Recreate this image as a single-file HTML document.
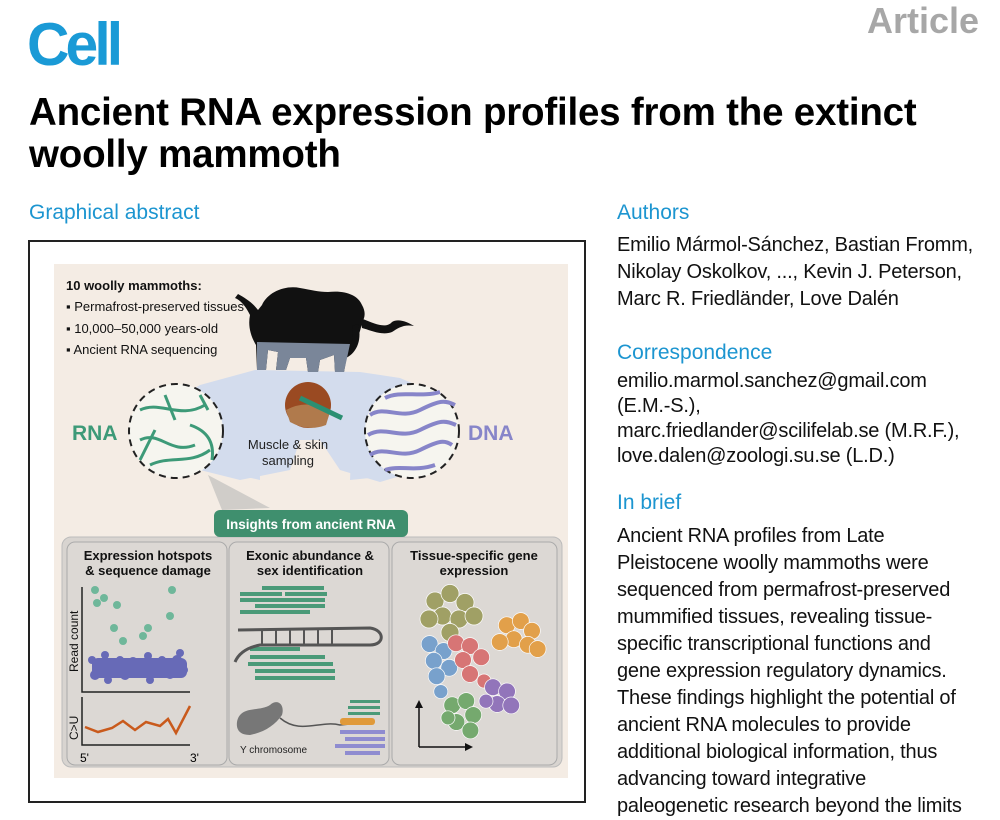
<!DOCTYPE html>
<html><head><meta charset="utf-8"><style>
body{margin:0;width:1000px;height:818px;overflow:hidden;background:#fff;font-family:"Liberation Sans",sans-serif;position:relative}
.a{position:absolute;white-space:nowrap}
.h{color:#1c95d0;font-size:21px}
.t{font-size:20px;color:#111;line-height:27px;letter-spacing:-0.2px}
</style></head><body>
<div class="a" style="left:27px;top:10px;font-size:60px;font-weight:bold;color:#1a9ad6;letter-spacing:-4px;transform:scaleX(0.98);transform-origin:left">Cell</div>
<div class="a" style="left:867px;top:0px;font-size:36px;font-weight:bold;color:#a7a7a7">Article</div>
<div class="a" style="left:29px;top:92px;font-size:38.5px;font-weight:bold;line-height:42px;color:#000;letter-spacing:-0.2px">Ancient RNA expression profiles from the extinct<br>woolly mammoth</div>
<div class="a h" style="left:29px;top:201px">Graphical abstract</div>
<div class="a h" style="left:617px;top:201px">Authors</div>
<div class="a t" style="left:617px;top:232px">Emilio Mármol-Sánchez, Bastian Fromm,<br>Nikolay Oskolkov, ..., Kevin J. Peterson,<br>Marc R. Friedländer, Love Dalén</div>
<div class="a h" style="left:617px;top:341px">Correspondence</div>
<div class="a t" style="left:617px;top:369px;line-height:25px">emilio.marmol.sanchez@gmail.com<br>(E.M.-S.),<br>marc.friedlander@scilifelab.se (M.R.F.),<br>love.dalen@zoologi.su.se (L.D.)</div>
<div class="a h" style="left:617px;top:491px">In brief</div>
<div class="a t" style="left:617px;top:523px">Ancient RNA profiles from Late<br>Pleistocene woolly mammoths were<br>sequenced from permafrost-preserved<br>mummified tissues, revealing tissue-<br>specific transcriptional functions and<br>gene expression regulatory dynamics.<br>These findings highlight the potential of<br>ancient RNA molecules to provide<br>additional biological information, thus<br>advancing toward integrative<br>paleogenetic research beyond the limits</div>
<svg class="a" style="left:0;top:0" width="600" height="818" font-family="Liberation Sans, sans-serif">
<rect x="29" y="241" width="556" height="561" fill="#fff" stroke="#222" stroke-width="2"/>
<rect x="54" y="264" width="514" height="514" fill="#f4ece4"/>
<path d="M255 370 L200 385 L175 400 L200 470 L240 480 L290 470 L300 440 L320 440 L340 470 L380 482 L420 470 L440 395 L400 378 L360 372 Z" fill="#d3dced"/>
<path d="M258 372 L190 390 L215 470 L260 480 Z M355 372 L430 392 L400 475 L350 480Z" fill="#d3dced"/>
<path d="M262 305 C268 292 285 285 300 288 C312 290 318 292 328 292 C345 290 358 295 362 305 C366 312 365 318 362 322 C360 335 355 345 348 350 L344 372 L335 372 L334 355 L320 360 L318 372 L308 372 L306 358 L290 358 L286 370 L276 370 L278 352 L268 350 L266 370 L257 370 L256 345 C250 335 248 325 250 315 C245 305 240 300 235 298 L238 294 C245 298 252 302 258 310 Z" fill="#111"/>
<path d="M360 318 C372 322 385 330 392 322 C398 318 408 322 414 326 C404 324 398 328 392 332 C382 336 370 330 362 328Z" fill="#111"/>
<path d="M358 324 C362 338 358 352 346 358 L343 356 C352 348 354 338 352 326Z" fill="#111"/>
<path d="M257 342 L350 344 L344 372 L335 372 L334 355 L320 360 L318 372 L308 372 L306 358 L290 358 L286 370 L276 370 L278 352 L268 350 L266 370 L257 370Z" fill="#7a8699"/>
<text x="66" y="290" font-size="13" font-weight="bold" fill="#111">10 woolly mammoths:</text>
<text x="66" y="311" font-size="13" fill="#111">▪ Permafrost-preserved tissues</text>
<text x="66" y="333" font-size="13" fill="#111">▪ 10,000–50,000 years-old</text>
<text x="66" y="354" font-size="13" fill="#111">▪ Ancient RNA sequencing</text>
<circle cx="176" cy="431" r="47" fill="#f6f5ef" stroke="#222" stroke-width="2" stroke-dasharray="7,5"/>
<g stroke="#3d9a78" stroke-width="3" fill="none"><path d="M140 410 C160 400 180 420 205 405"/><path d="M140 440 C160 430 170 455 195 445"/><path d="M150 465 C170 455 190 465 210 450"/><path d="M165 395 L175 420"/><path d="M140 460 L155 430"/><path d="M190 425 C205 430 215 440 212 460"/><path d="M200 395 L208 410"/></g>
<circle cx="412" cy="431" r="47" fill="#f6f5ef" stroke="#222" stroke-width="2" stroke-dasharray="7,5"/>
<g stroke="#8785c9" stroke-width="4" fill="none"><path d="M370 415 C385 405 400 420 420 410 S445 400 455 405"/><path d="M368 435 C385 425 400 440 420 430 S445 420 456 425"/><path d="M370 455 C385 445 400 460 420 450 S445 440 452 445"/><path d="M385 398 C400 390 420 398 440 392"/><path d="M385 470 C400 465 415 472 435 465"/></g>
<circle cx="308" cy="405" r="23" fill="#9a4a22"/><path d="M286 410 Q308 398 330 412 L326 425 Q308 432 290 422Z" fill="#b07a4c"/>
<line x1="300" y1="398" x2="342" y2="418" stroke="#2b8f72" stroke-width="5"/>
<text x="72" y="440" font-size="21" font-weight="bold" fill="#3d9a78">RNA</text>
<text x="468" y="440" font-size="21" font-weight="bold" fill="#8785c9">DNA</text>
<text x="288" y="449" font-size="13" text-anchor="middle" fill="#222">Muscle &amp; skin</text>
<text x="288" y="465" font-size="13" text-anchor="middle" fill="#222">sampling</text>
<path d="M208 475 L222 510 L270 508 Z" fill="#d0cdc9"/>
<rect x="62" y="537" width="500" height="230" rx="9" fill="#d8d4d0" stroke="#bbb"/>
<rect x="67" y="542" width="160" height="223" rx="8" fill="#dcd8d4" stroke="#aaa"/>
<rect x="229" y="542" width="160" height="223" rx="8" fill="#dcd8d4" stroke="#aaa"/>
<rect x="392" y="542" width="165" height="223" rx="8" fill="#dcd8d4" stroke="#aaa"/>
<rect x="214" y="510" width="194" height="27" rx="6" fill="#3f8f6e"/>
<text x="311" y="529" font-size="13.5" font-weight="bold" fill="#fff" text-anchor="middle">Insights from ancient RNA</text>
<g font-size="13" font-weight="bold" fill="#111" text-anchor="middle">
<text x="148" y="560">Expression hotspots</text><text x="148" y="575">&amp; sequence damage</text>
<text x="310" y="560">Exonic abundance &amp;</text><text x="310" y="575">sex identification</text>
<text x="474" y="560">Tissue-specific gene</text><text x="474" y="575">expression</text></g>
<path d="M82 587 V692 H190 M82 697 V745 H190" stroke="#222" stroke-width="1.5" fill="none"/>
<text transform="translate(78,672) rotate(-90)" font-size="12" fill="#111">Read count</text>
<text transform="translate(78,740) rotate(-90)" font-size="12" fill="#111">C&gt;U</text>
<text x="80" y="762" font-size="12">5'</text><text x="190" y="762" font-size="12">3'</text>
<g fill="#4a4fb0" opacity="0.8"><circle cx="92" cy="660" r="4"/><circle cx="100" cy="668" r="5"/><circle cx="95" cy="675" r="5"/><circle cx="105" cy="655" r="4"/><circle cx="112" cy="670" r="5"/><circle cx="120" cy="660" r="4"/><circle cx="125" cy="675" r="5"/><circle cx="133" cy="662" r="5"/><circle cx="140" cy="672" r="5"/><circle cx="148" cy="656" r="4"/><circle cx="155" cy="670" r="5"/><circle cx="162" cy="660" r="4"/><circle cx="170" cy="674" r="5"/><circle cx="177" cy="660" r="5"/><circle cx="184" cy="670" r="4"/><circle cx="180" cy="653" r="4"/><circle cx="108" cy="680" r="4"/><circle cx="150" cy="680" r="4"/><rect x="92" y="658" width="95" height="20" rx="6"/></g>
<g fill="#6fb79a"><circle cx="95" cy="590" r="4"/><circle cx="97" cy="603" r="4"/><circle cx="104" cy="598" r="4"/><circle cx="117" cy="605" r="4"/><circle cx="114" cy="628" r="4"/><circle cx="123" cy="641" r="4"/><circle cx="143" cy="636" r="4"/><circle cx="148" cy="628" r="4"/><circle cx="170" cy="616" r="4"/><circle cx="172" cy="590" r="4"/></g>
<polyline points="85,727 98,732 112,728 123,721 135,730 146,722 160,726 168,719 176,733 190,706" stroke="#c95a1c" stroke-width="2.5" fill="none"/>
<g fill="#4a9a78"><rect x="262" y="586" width="62" height="4"/><rect x="240" y="592" width="42" height="4"/><rect x="285" y="592" width="42" height="4"/><rect x="240" y="598" width="85" height="4"/><rect x="255" y="604" width="70" height="4"/><rect x="240" y="610" width="70" height="4"/><rect x="250" y="647" width="50" height="4"/><rect x="250" y="655" width="75" height="4"/><rect x="248" y="662" width="85" height="4"/><rect x="255" y="669" width="80" height="4"/><rect x="255" y="676" width="80" height="4"/></g>
<path d="M238 630 L370 628 C385 630 385 645 370 645 L260 645 C245 648 238 655 235 662" stroke="#555" stroke-width="3" fill="none"/>
<g stroke="#555" stroke-width="2"><line x1="262" y1="630" x2="262" y2="645"/><line x1="276" y1="630" x2="276" y2="645"/><line x1="290" y1="630" x2="290" y2="645"/><line x1="304" y1="630" x2="304" y2="645"/><line x1="318" y1="630" x2="318" y2="645"/><line x1="332" y1="630" x2="332" y2="645"/></g>
<path d="M237 722 C240 705 260 712 270 705 C278 698 285 705 282 715 C275 725 265 732 250 735 C240 735 236 730 237 722Z" fill="#777"/>
<path d="M280 718 C300 735 320 720 340 725 L370 722" stroke="#555" stroke-width="1.5" fill="none"/>
<rect x="340" y="718" width="35" height="7" rx="3" fill="#e09a3a"/>
<g fill="#4a9a78"><rect x="350" y="700" width="30" height="3"/><rect x="348" y="706" width="32" height="3"/><rect x="348" y="712" width="32" height="3"/></g>
<g fill="#8f8cd0"><rect x="340" y="730" width="45" height="4"/><rect x="345" y="737" width="40" height="4"/><rect x="335" y="744" width="50" height="4"/><rect x="345" y="751" width="35" height="4"/></g>
<text x="240" y="753" font-size="10" fill="#222">Y chromosome</text>
<g opacity="0.9" stroke="#fff" stroke-width="0.5">
<g fill="#9a9a5a" transform="translate(450,613) scale(1.5) translate(-450,-613)"><circle cx="440" cy="605" r="6"/><circle cx="450" cy="600" r="6"/><circle cx="460" cy="606" r="6"/><circle cx="445" cy="615" r="6"/><circle cx="456" cy="617" r="6"/><circle cx="466" cy="615" r="6"/><circle cx="450" cy="626" r="6"/><circle cx="436" cy="617" r="6"/></g>
<g fill="#e39a3c" transform="translate(518,635) scale(1.4) translate(-518,-635)"><circle cx="510" cy="628" r="6"/><circle cx="520" cy="625" r="6"/><circle cx="528" cy="632" r="6"/><circle cx="515" cy="638" r="6"/><circle cx="525" cy="642" r="6"/><circle cx="505" cy="640" r="6"/><circle cx="532" cy="645" r="6"/></g>
<g fill="#6e9ccc" transform="translate(438,665) scale(1.4) translate(-438,-665)"><circle cx="432" cy="650" r="6"/><circle cx="442" cy="655" r="6"/><circle cx="435" cy="662" r="6"/><circle cx="446" cy="667" r="6"/><circle cx="437" cy="673" r="6"/><circle cx="440" cy="684" r="5"/></g>
<g fill="#d76b6b" transform="translate(470,660) scale(1.4) translate(-470,-660)"><circle cx="460" cy="648" r="6"/><circle cx="470" cy="650" r="6"/><circle cx="478" cy="658" r="6"/><circle cx="465" cy="660" r="6"/><circle cx="470" cy="670" r="6"/><circle cx="480" cy="675" r="5"/></g>
<g fill="#8b6bb8" transform="translate(500,697) scale(1.4) translate(-500,-697)"><circle cx="495" cy="690" r="6"/><circle cx="505" cy="693" r="6"/><circle cx="498" cy="702" r="6"/><circle cx="508" cy="703" r="6"/><circle cx="490" cy="700" r="5"/></g>
<g fill="#6aa564" transform="translate(462,715) scale(1.4) translate(-462,-715)"><circle cx="455" cy="708" r="6"/><circle cx="465" cy="705" r="6"/><circle cx="470" cy="715" r="6"/><circle cx="458" cy="720" r="6"/><circle cx="468" cy="726" r="6"/><circle cx="452" cy="717" r="5"/></g></g>
<path d="M419 747 V705 M419 747 H468" stroke="#111" stroke-width="1.5"/><path d="M415 708 L419 700 L423 708Z M465 743 L473 747 L465 751Z" fill="#111"/>
</svg>
</body></html>
